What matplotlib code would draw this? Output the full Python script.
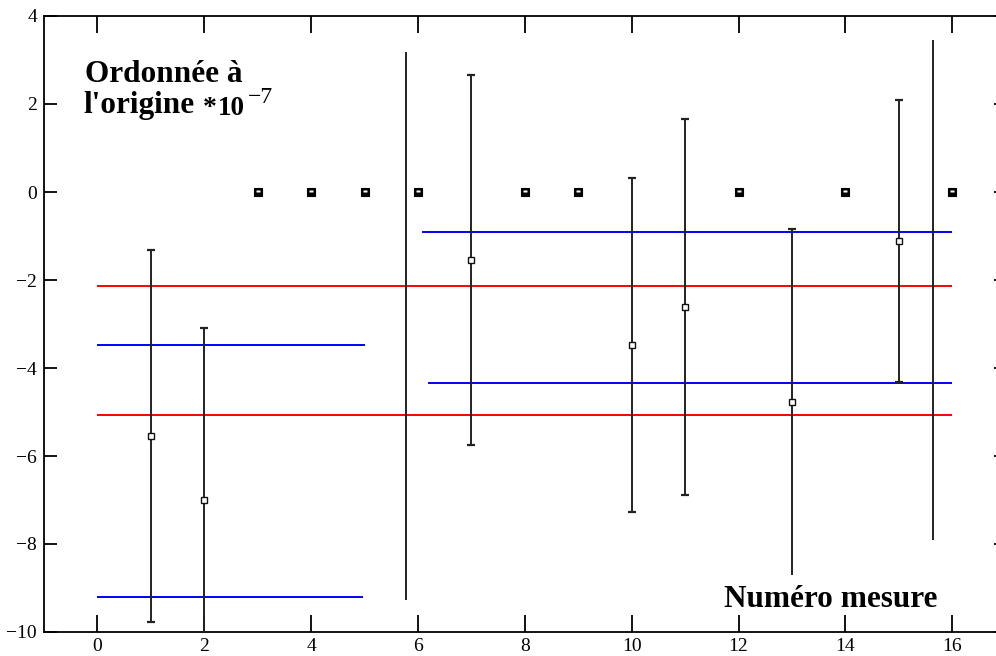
import matplotlib
matplotlib.use("Agg")
import matplotlib.pyplot as plt
from matplotlib.path import Path
import numpy as np

# ---- data ----
meas_x = [1, 2, 7, 10, 11, 13, 15]
meas_y = [-5.55, -7.0, -1.55, -3.48, -2.61, -4.77, -1.11]
meas_err = [4.23, 3.91, 4.2, 3.8, 4.27, 3.93, 3.2]
low_cap = [True, True, True, True, True, False, True]

zero_x = [3, 4, 5, 6, 8, 9, 12, 14, 16]
zero_y = [0, 0, 0, 0, 0, 0, 0, 0, 0]

bar_x = [5.77, 15.64]
bar_top = [3.18, 3.45]
bar_bot = [-9.27, -7.9]

red_y = [-2.14, -5.07]
red_x0 = [0, 0]
red_x1 = [16, 16]

blue_y = [-3.48, -9.2, -0.91, -4.33]
blue_x0 = [0, 0, 6.08, 6.18]
blue_x1 = [5.0, 4.97, 16, 16]

xticks = [0, 2, 4, 6, 8, 10, 12, 14, 16]
yticks = [-10, -8, -6, -4, -2, 0, 2, 4]

W, H = 996, 656
fig = plt.figure(figsize=(W / 100, H / 100), dpi=100)
L, R, T, B = 44, 1005.7, 16, 632
ax = fig.add_axes([L / W, 1 - B / H, (R - L) / W, (B - T) / H])
ax.set_xlim(-1, 17)
ax.set_ylim(-10, 4)

# horizontal lines
ax.hlines(red_y, red_x0, red_x1, colors="#ff0000", lw=1.4, zorder=2)
ax.hlines(blue_y, blue_x0, blue_x1, colors="#0000ff", lw=1.4, zorder=2)

# vertical bars without markers
ax.vlines(bar_x, bar_bot, bar_top, colors="#222222", lw=1.4, zorder=3)

# error bars
mx = np.array(meas_x, float)
my = np.array(meas_y)
me = np.array(meas_err)
ax.vlines(mx, my - me, my + me, colors="#222222", lw=1.4, zorder=3)
ax.plot(mx, my + me, ls="none", marker="_", ms=6, mew=1.6, color="#222222", zorder=3)
lc = np.array(low_cap)
ax.plot(mx[lc], (my - me)[lc], ls="none", marker="_", ms=6, mew=1.6, color="#222222", zorder=3)
ax.plot(mx, my, ls="none", marker="s", ms=5, mfc="white", mec="#111111", mew=1.0, zorder=4)

# filled squares at zero
ax.plot(zero_x, zero_y, ls="none", marker="s", ms=6, mfc="black", mec="black", mew=0.8, zorder=4)
bar_marker = Path([(-0.5, 0.05), (0.5, 0.05), (0.5, 0.4), (-0.5, 0.4), (-0.5, 0.05)])
ax.plot(zero_x, zero_y, ls="none", marker=bar_marker, ms=3.2, mfc="white", mec="none", zorder=5)

# axes styling
for s in ax.spines.values():
    s.set_linewidth(1.3)
    s.set_color("black")
ax.set_xticks(xticks)
ax.set_yticks(yticks)
ax.set_xticklabels([str(v) for v in xticks])
ax.set_yticklabels([("\u2212" + str(-v)) if v < 0 else str(v) for v in yticks])
ax.tick_params(axis="both", direction="in", length=9, width=1.3, labelsize=14,
               top=True, right=True, labeltop=False, labelright=False)
ax.tick_params(axis="x", length=12, pad=4)
ax.tick_params(axis="y", pad=5)
for lab in ax.get_xticklabels() + ax.get_yticklabels():
    lab.set_family("Liberation Serif")

# texts
def px(x, y):
    return x / W, 1 - y / H

fig.text(*px(85, 82), "Ordonnée à", family="Liberation Serif", weight="bold",
         fontsize=22.5, va="baseline", ha="left")
fig.text(*px(83, 113), "l'origine", family="Liberation Serif", weight="bold",
         fontsize=22.5, va="baseline", ha="left")
fig.text(*px(203, 115), "*", family="Liberation Serif", weight="bold",
         fontsize=20, va="baseline", ha="left")
fig.text(*px(218, 115), "10", family="Liberation Serif", weight="bold",
         fontsize=19.5, va="baseline", ha="left")
fig.text(*px(248, 103), "\u22127", family="Liberation Serif",
         fontsize=17, va="baseline", ha="left")
fig.text(*px(724, 607), "Numéro mesure", family="Liberation Serif", weight="bold",
         fontsize=22.5, va="baseline", ha="left")

fig.savefig("out.png", dpi=100)
